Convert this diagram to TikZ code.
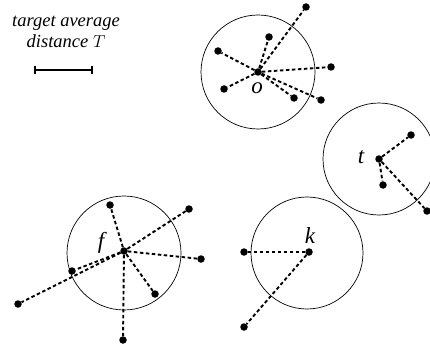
\documentclass[tikz,border=0pt]{standalone}
\usepackage{fontspec}
\setmainfont{Liberation Serif}
\usetikzlibrary{positioning}

\begin{document}
\begin{tikzpicture}[
    x=1pt, y=-1pt,
    dot/.style={circle, fill, inner sep=0pt, minimum size=7.5pt},
    lbl/.style={font=\fontsize{23}{23}\selectfont\itshape, inner sep=0pt},
    link/.style={dashed, line width=1.9pt, dash pattern=on 3.5pt off 2.5pt},
    zone/.style={line width=0.7pt},
]
    \useasboundingbox (0,0) rectangle (430,350);

    % scale bar
    \node[align=center, font=\fontsize{18.5}{21}\selectfont\itshape] (cap) at (66,32)
        {target average\\distance $T$};
    \coordinate (barl) at (35,70);
    \coordinate (barr) at (92,70);
    \draw[line width=1.8pt] (barl) -- (barr);
    \draw[line width=1.8pt] ([yshift=-4pt]barl) -- ([yshift=4pt]barl);
    \draw[line width=1.8pt] ([yshift=-4pt]barr) -- ([yshift=4pt]barr);

    % circle o
    \node[dot] (o) at (258,72) {};
    \draw[zone] (o) circle (57);
    \node[lbl] (ol) at (257,88) {o};
    \node[dot] (o1) at (306,7) {};
    \node[dot] (o2) at (269,37) {};
    \node[dot] (o3) at (218,51) {};
    \node[dot] (o4) at (331,67) {};
    \node[dot] (o5) at (224,89) {};
    \node[dot] (o6) at (294,98) {};
    \node[dot] (o7) at (321,100) {};
    \foreach \p in {o1,o2,o3,o4,o5,o6,o7}
        \draw[link] (o) -- (\p);

    % circle t
    \node[dot] (t) at (379,159) {};
    \draw[zone] (t) circle (56);
    \node[lbl] (tl) at (361,157) {t};
    \node[dot] (t1) at (411,135) {};
    \node[dot] (t2) at (383,185) {};
    \node[dot] (t3) at (427,211) {};
    \foreach \p in {t1,t2,t3}
        \draw[link] (t) -- (\p);

    % circle f
    \node[dot] (f) at (124,251) {};
    \draw[zone] (124,253) circle (57);
    \node[lbl] (fl) at (101,243) {f};
    \node[dot] (f1) at (110,205) {};
    \node[dot] (f2) at (189,209) {};
    \node[dot] (f3) at (201,259) {};
    \node[dot] (f4) at (72,271) {};
    \node[dot] (f5) at (18,304) {};
    \node[dot] (f6) at (155,294) {};
    \node[dot] (f7) at (123,340) {};
    \foreach \p in {f1,f2,f3,f4,f5,f6,f7}
        \draw[link] (f) -- (\p);

    % circle k
    \node[dot] (k) at (309,252) {};
    \draw[zone] (307,253) circle (56);
    \node[lbl] (kl) at (310,236) {k};
    \node[dot] (k1) at (244,252) {};
    \node[dot] (k2) at (244,327) {};
    \foreach \p in {k1,k2}
        \draw[link] (k) -- (\p);
\end{tikzpicture}
\end{document}
